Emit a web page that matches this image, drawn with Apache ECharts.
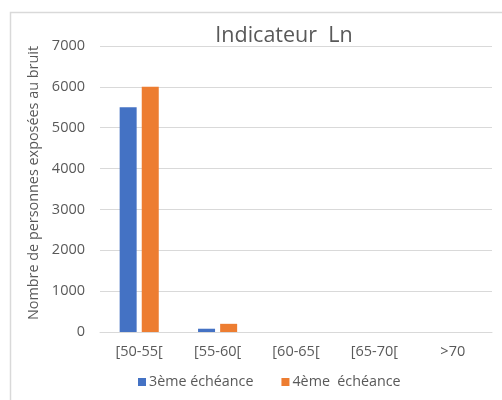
<!DOCTYPE html>
<html>
<head>
<meta charset="utf-8">
<script src="https://cdn.jsdelivr.net/npm/echarts@6/dist/echarts.min.js"></script>
<style>
  html, body { margin: 0; padding: 0; background: #fff; }
  #chart { width: 502px; height: 400px; }
</style>
</head>
<body>
<div id="chart"></div>
<script>
// categories (bruit, dB)
const categories = ["[50-55[", "[55-60[", "[60-65[", "[65-70[", ">70"];
// nombre de personnes exposées
const echeance3 = [5500, 80, 0, 0, 0];
const echeance4 = [6000, 200, 0, 0, 0];
const yTicks = [0, 1000, 2000, 3000, 4000, 5000, 6000, 7000];

const textColor = "#595959";
const font = "'Open Sans', 'Noto Sans', sans-serif";

const chart = echarts.init(document.getElementById("chart"), null, { renderer: "canvas" });

chart.setOption({
  animation: false,
  backgroundColor: "#fff",
  graphic: [
    {
      // cadre du graphique
      type: "rect",
      shape: { x: 10.5, y: 12.5, width: 500, height: 400 },
      style: { fill: "none", stroke: "#d9d9d9", lineWidth: 1.5 },
      silent: true,
    },
  ],
  title: {
    text: "Indicateur  Ln",
    left: 279,
    textAlign: "center",
    top: 20,
    textStyle: { fontSize: 21.5, fontWeight: "normal", color: textColor, fontFamily: font },
  },
  legend: {
    left: 133,
    top: 370,
    itemWidth: 8,
    itemHeight: 8,
    itemGap: 28,
    icon: "rect",
    textStyle: { fontSize: 14.3, color: textColor, fontFamily: font, padding: [0, 0, 0, -2] },
    data: ["3ème échéance", "4ème  échéance"],
  },
  grid: { left: 100, right: 10, top: 46, bottom: 68 },
  xAxis: {
    type: "category",
    data: categories,
    axisLine: { lineStyle: { color: "#d9d9d9", width: 1 } },
    axisTick: { show: false },
    axisLabel: { color: textColor, fontSize: 14.5, fontFamily: font, margin: 12 },
  },
  yAxis: {
    type: "value",
    min: yTicks[0],
    max: yTicks[yTicks.length - 1],
    interval: 1000,
    name: "Nombre de personnes exposées au bruit",
    nameLocation: "middle",
    nameGap: 58,
    nameTextStyle: { color: textColor, fontSize: 14.4, fontFamily: font, padding: [0, 0, 0, 12] },
    axisLine: { show: false },
    axisTick: { show: false },
    axisLabel: {
      color: textColor,
      fontSize: 14.5,
      fontFamily: font,
      margin: 15,
      formatter: (v) => String(v),
    },
    splitLine: { lineStyle: { color: "#d9d9d9", width: 1 } },
  },
  series: [
    {
      name: "3ème échéance",
      type: "bar",
      data: echeance3,
      barWidth: 17,
      barGap: "30%",
      itemStyle: { color: "#4472C4" },
    },
    {
      name: "4ème  échéance",
      type: "bar",
      data: echeance4,
      barWidth: 17,
      itemStyle: { color: "#ED7D31" },
    },
  ],
});
</script>
</body>
</html>
